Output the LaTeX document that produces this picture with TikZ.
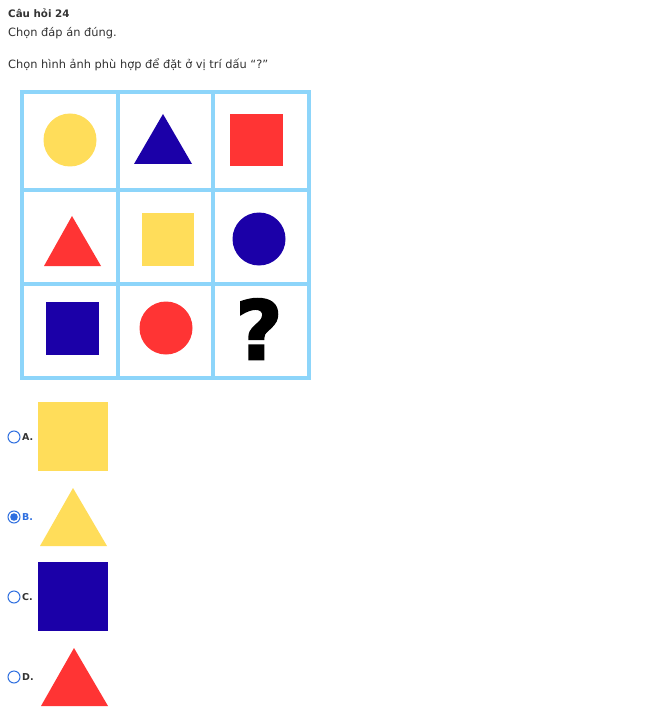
\documentclass[tikz,border=0pt]{standalone}
\usepackage{fontspec}
\setmainfont{DejaVu Sans}
\newfontfamily\qfont[FakeBold=2]{DejaVu Sans Bold}
\definecolor{gridblue}{HTML}{8DD5FA}
\definecolor{shyellow}{HTML}{FFDD5A}
\definecolor{shblue}{HTML}{1B00A8}
\definecolor{shred}{HTML}{FF3434}
\definecolor{radioblue}{HTML}{2F6FE0}
\definecolor{txtgray}{HTML}{333333}
\begin{document}
\begin{tikzpicture}[x=1pt,y=-1pt,
  title/.style={anchor=west,inner sep=0pt,font=\fontsize{10.3}{13}\selectfont\bfseries,text=txtgray},
  body/.style={anchor=west,inner sep=0pt,font=\fontsize{11.4}{13}\selectfont,text=txtgray},
  gridline/.style={draw=gridblue,line width=3.5pt,line cap=round},
  radio/.style={circle,draw=radioblue,line width=1pt,minimum size=12pt,inner sep=0pt},
  optlabel/.style={anchor=west,inner sep=0pt,font=\fontsize{9.5}{11}\selectfont\bfseries,text=txtgray}
]
\useasboundingbox[fill=white] (0,0) rectangle (648,711);
\node[title] (t1) at (8,13) {Câu hỏi 24};
\node[body] (t2) at (8,33) {Chọn đáp án đúng.};
\node[body] (t3) at (8,65) {Chọn hình ảnh phù hợp để đặt ở vị trí dấu “?”};
% grid
\draw[gridline] (22,92) rectangle (309,378);
\draw[gridline] (118,92) -- (118,378);
\draw[gridline] (213,92) -- (213,378);
\draw[gridline] (22,190) -- (309,190);
\draw[gridline] (22,284) -- (309,284);
% row 1
\fill[shyellow] (70,140) circle (26.5);
\fill[shblue] (163,114) -- (192,164) -- (134,164) -- cycle;
\fill[shred] (230,114) rectangle (283,166);
% row 2
\fill[shred] (72,216) -- (101,266) -- (44,266) -- cycle;
\fill[shyellow] (142,213) rectangle (194,266);
\fill[shblue] (259,239) circle (26.5);
% row 3
\fill[shblue] (46,302) rectangle (99,355);
\fill[shred] (166,328) circle (26.5);
\node[inner sep=0pt,font=\fontsize{82}{82}\qfont] (q) at (259,329) {?};
% options
\node[radio] (ra) at (14,437) {};
\node[optlabel] (la) at (22,437) {A.};
\fill[shyellow] (38,402) rectangle (108,471);
\node[radio] (rb) at (14,517) {};
\fill[radioblue] (rb.center) circle (3.8);
\node[optlabel,text=radioblue] (lb) at (22,517) {B.};
\fill[shyellow] (73,488) -- (107,546) -- (40,546) -- cycle;
\node[radio] (rc) at (14,597) {};
\node[optlabel] (lc) at (22,597) {C.};
\fill[shblue] (38,562) rectangle (108,631);
\node[radio] (rd) at (14,677) {};
\node[optlabel] (ld) at (22,677) {D.};
\fill[shred] (74,648) -- (108,706) -- (41,706) -- cycle;
\end{tikzpicture}
\end{document}
